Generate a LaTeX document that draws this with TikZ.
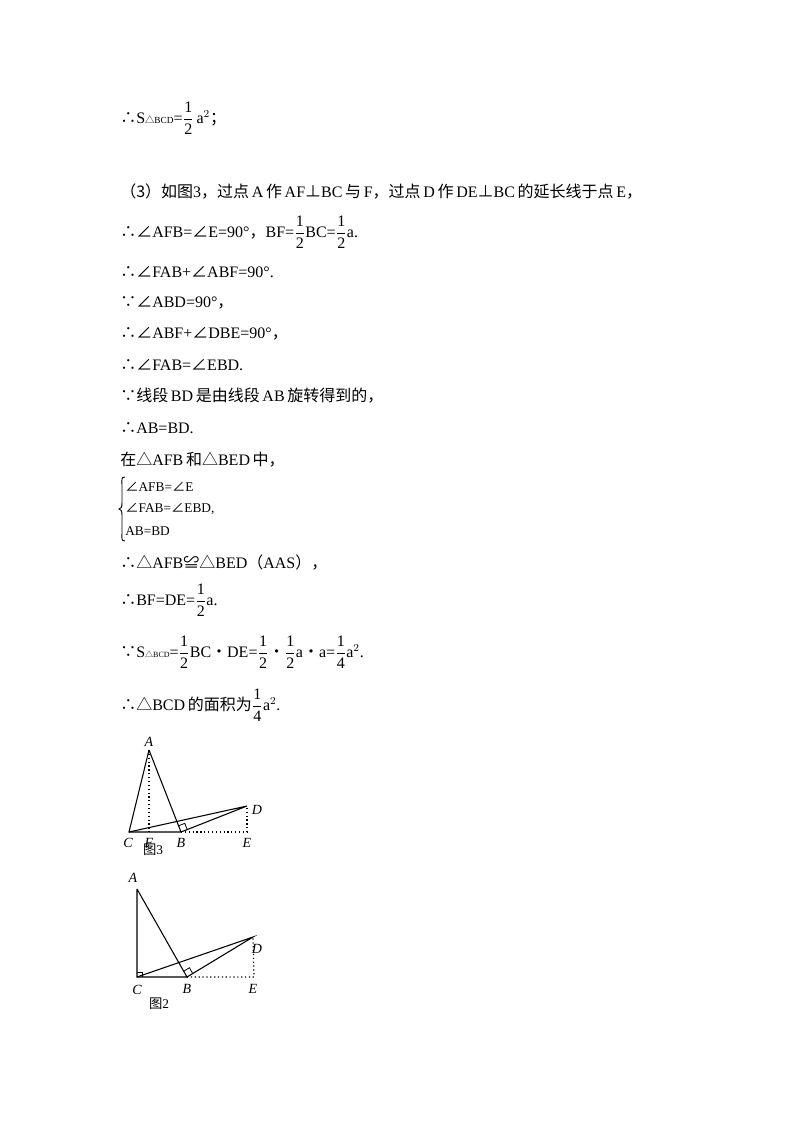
\documentclass[tikz,border=0pt]{standalone}
\usepackage{amsmath}
\usepackage{fontspec}
\setmainfont{Liberation Serif}
\newfontfamily\cjk{Noto Sans CJK SC}
\usetikzlibrary{calc}
\newcommand{\hf}[2]{$\dfrac{\mathrm{#1}}{\mathrm{#2}}$}
\begin{document}
\begin{tikzpicture}[x=0.75pt,y=-0.75pt,
  txt/.style={anchor=west,inner sep=0pt,font=\fontsize{12}{14}\selectfont},
  lbl/.style={inner sep=0pt,font=\fontsize{10.5}{12}\selectfont\itshape},
  figcap/.style={inner sep=0pt,font=\fontsize{10}{12}\selectfont},
  seg/.style={line width=0.8pt},
  dot/.style={line width=0.9pt,dotted}]
\useasboundingbox (0,0) rectangle (800,1132);
\fill[white] (0,0) rectangle (800,1132);
\node[txt] (t1) at (120,118) {{\cjk ∴}S{\fontsize{7}{8}\selectfont{\cjk △}BCD}=\hf12\,a$^{2}${\cjk ；}};
\node[txt] (t2) at (120,192) {{\cjk （3）如图}3{\cjk ，过点}\,A\,{\cjk 作}\,AF{\cjk ⊥}BC\,{\cjk 与}\,F{\cjk ，过点}\,D\,{\cjk 作}\,DE{\cjk ⊥}BC\,{\cjk 的延长线于点}\,E{\cjk ，}};
\node[txt] (t3) at (120,232) {{\cjk ∴∠}AFB={\cjk ∠}E=90°{\cjk ，}BF=\hf12BC=\hf12a.};
\node[txt] (t4) at (120,272) {{\cjk ∴∠}FAB+{\cjk ∠}ABF=90°.};
\node[txt] (t5) at (120,303) {{\cjk ∵∠}ABD=90°{\cjk ，}};
\node[txt] (t6) at (120,334) {{\cjk ∴∠}ABF+{\cjk ∠}DBE=90°{\cjk ，}};
\node[txt] (t7) at (120,365) {{\cjk ∴∠}FAB={\cjk ∠}EBD.};
\node[txt] (t8) at (120,396) {{\cjk ∵线段}\,BD\,{\cjk 是由线段}\,AB\,{\cjk 旋转得到的，}};
\node[txt] (t9) at (120,428) {{\cjk ∴}AB=BD.};
\node[txt] (t10) at (120,460) {{\cjk 在△}AFB\,{\cjk 和△}BED\,{\cjk 中，}};
\draw[line width=0.7pt] (125,477) .. controls (121,477) and (122,480) .. (122,485)
  -- (122,503) .. controls (122,507) and (121,509) .. (119,509)
  .. controls (121,509) and (122,511) .. (122,515) -- (122,533)
  .. controls (122,538) and (121,541) .. (125,541);
\node[txt,font=\fontsize{10}{12}\selectfont] (b1) at (125,487) {{\cjk ∠}AFB={\cjk ∠}E};
\node[txt,font=\fontsize{10}{12}\selectfont] (b2) at (125,509) {{\cjk ∠}FAB={\cjk ∠}EBD,};
\node[txt,font=\fontsize{10}{12}\selectfont] (b3) at (125,531) {AB=BD};
\node[txt] (t11) at (120,562) {{\cjk ∴△}AFB{\cjk ≌△}BED{\cjk （}AAS{\cjk ），}};
\node[txt] (t12) at (120,600) {{\cjk ∴}BF=DE=\hf12a.};
\node[txt] (t13) at (120,652) {{\cjk ∵}S{\fontsize{6}{7}\selectfont{\cjk △}BCD}=\hf12BC{\cjk •}DE=\hf12{\cjk •}\hf12a{\cjk •}a=\hf14a$^{2}$.};
\node[txt] (t14) at (120,705) {{\cjk ∴△}BCD\,{\cjk 的面积为}\hf14a$^{2}$.};
% figure 3
\coordinate (A) at (149,750); \coordinate (C) at (129,832); \coordinate (F) at (149,832);
\coordinate (B) at (181,832); \coordinate (D) at (247,806); \coordinate (E) at (247,832);
\draw[seg] (A) -- (C) -- (B) -- (A); \draw[seg] (C) -- (D) -- (B);
\draw[dot] (A) -- (F); \draw[dot] (B) -- (E) -- (D);
\draw[line width=0.6pt] ($(B)!5pt!(A)$) -- ($(B)!5pt!(A)+(B)!5pt!(D)-(B)$) -- ($(B)!5pt!(D)$);
\node[lbl] (lA) at (149,742) {A}; \node[lbl] (lC) at (128,843) {C}; \node[lbl] (lF) at (149,843) {F};
\node[lbl] (lB) at (181,843) {B}; \node[lbl] (lD) at (257,810) {D}; \node[lbl] (lE) at (247,843) {E};
\node[figcap] (c3) at (153,850) {{\cjk 图}3};
% figure 2
\coordinate (A2) at (137,889); \coordinate (C2) at (137,977); \coordinate (B2) at (187,977);
\coordinate (D2) at (253,937); \coordinate (E2) at (254,977);
\draw[seg] (A2) -- (C2) -- (B2) -- (A2); \draw[seg] (C2) -- (D2) -- (B2);
\draw[dot] (B2) -- (E2) -- (D2);
\draw[line width=0.6pt] ($(C2)+(0,-5)$) -- ($(C2)+(5,-5)$) -- ($(C2)+(5,0)$);
\draw[line width=0.6pt] ($(B2)!5pt!(A2)$) -- ($(B2)!5pt!(A2)+(B2)!5pt!(D2)-(B2)$) -- ($(B2)!5pt!(D2)$);
\node[lbl] (lA2) at (133,878) {A}; \node[lbl] (lC2) at (137,990) {C}; \node[lbl] (lB2) at (187,989) {B};
\node[lbl] (lD2) at (257,949) {D}; \node[lbl] (lE2) at (253,989) {E};
\node[figcap] (c2) at (159,1004) {{\cjk 图}2};
\end{tikzpicture}
\end{document}
